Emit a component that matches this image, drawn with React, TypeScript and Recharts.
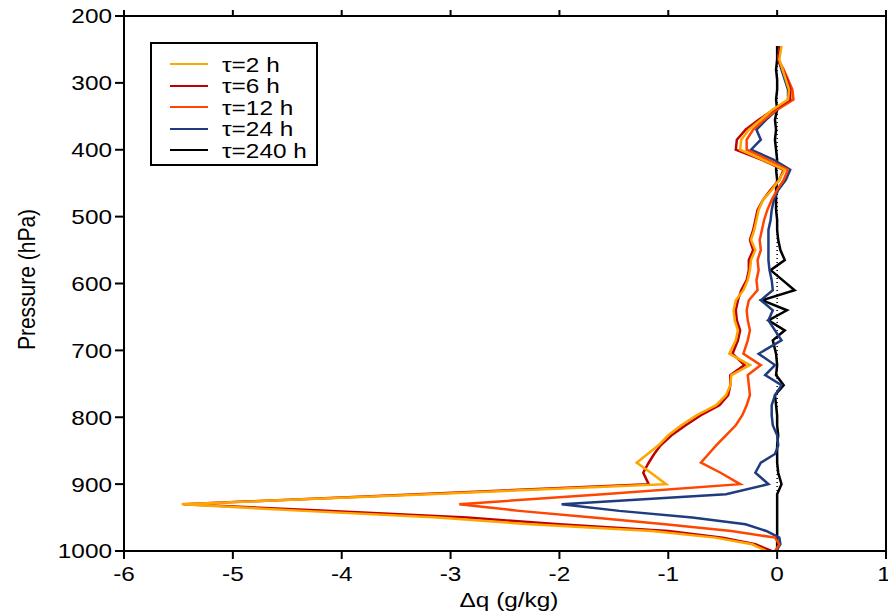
import { Legend, Line, LineChart, ReferenceLine, XAxis, YAxis } from "recharts";

// pressure levels (hPa), shared by every run
const pressureLevels = [
  245, 265, 280, 295, 310, 325, 340, 355, 370, 385, 400, 415, 430, 445, 460, 475, 490, 505, 520, 535,
  550, 565, 580, 595, 610, 625, 640, 655, 670, 685, 705, 722, 737, 752, 767, 782, 797, 812, 827, 842,
  855, 868, 883, 900, 915, 930, 940, 950, 960, 970, 980, 990, 1000,
];

// delta q (g/kg) for each relaxation time
const tau2 = [
  0.04, 0.02, 0.05, 0.08, 0.11, 0.1, -0.04, -0.15, -0.26, -0.33, -0.34, -0.13, 0.07, 0.02, -0.05, -0.13, -0.17, -0.19, -0.21, -0.24,
  -0.2, -0.24, -0.25, -0.27, -0.31, -0.38, -0.4, -0.39, -0.36, -0.38, -0.44, -0.25, -0.42, -0.43, -0.47, -0.56, -0.74, -0.88, -1.0, -1.09,
  -1.19, -1.29, -1.16, -1.02, -3.2, -5.47, -4.35, -3.12, -2.27, -1.15, -0.57, -0.23, -0.1,
];
const tau6 = [
  0.03, 0.01, 0.05, 0.09, 0.12, 0.12, -0.03, -0.17, -0.29, -0.37, -0.38, -0.14, 0.06, 0.02, -0.06, -0.13, -0.18, -0.2, -0.22, -0.25,
  -0.22, -0.26, -0.26, -0.28, -0.33, -0.36, -0.38, -0.37, -0.34, -0.36, -0.41, -0.3, -0.43, -0.43, -0.45, -0.53, -0.7, -0.84, -0.97, -1.07,
  -1.13, -1.18, -1.23, -1.18, -3.3, -5.45, -4.1, -2.85, -2.0, -1.0, -0.5, -0.2, -0.05,
];
const tau12 = [
  0.03, 0.01, 0.06, 0.1, 0.14, 0.15, 0.0, -0.12, -0.22, -0.28, -0.28, -0.08, 0.1, 0.06, 0.0, -0.05, -0.09, -0.12, -0.14, -0.16,
  -0.15, -0.18, -0.17, -0.19, -0.18, -0.26, -0.28, -0.27, -0.25, -0.27, -0.31, -0.15, -0.27, -0.26, -0.25, -0.28, -0.32, -0.38, -0.47, -0.56,
  -0.63, -0.7, -0.52, -0.34, -1.6, -2.92, -2.37, -1.69, -1.03, -0.42, -0.02, 0.02, -0.02,
];
const tau24 = [
  0.02, 0.01, 0.04, 0.07, 0.1, 0.1, 0.0, -0.1, -0.19, -0.15, -0.24, -0.03, 0.12, 0.08, 0.01, -0.03, -0.05, -0.06, -0.08, -0.08,
  -0.08, -0.08, -0.07, -0.05, -0.04, -0.15, -0.04, -0.08, -0.02, 0.04, -0.17, -0.02, -0.11, 0.04, -0.02, -0.05, -0.05, -0.04, 0.0, 0.01,
  -0.02, -0.15, -0.2, -0.08, -0.47, -1.98, -1.45, -0.78, -0.29, -0.1, 0.02, 0.03, -0.01,
];
const tau240 = [
  0.0, 0.0, -0.01, 0.0, 0.0, -0.01, 0.0, -0.02, -0.01, -0.02, -0.01, 0.0, -0.01, 0.0, -0.01, -0.01, -0.01, 0.0, 0.0, 0.01,
  0.03, 0.07, -0.06, 0.05, 0.16, -0.14, 0.09, -0.08, 0.07, -0.04, -0.01, 0.0, -0.01, 0.06, -0.02, -0.01, 0.0, 0.0, 0.01, 0.0,
  0.0, 0.0, 0.01, 0.04, 0.0, 0.0, 0.0, 0.0, 0.0, 0.0, 0.0, 0.0, 0.0,
];

const xTicks = [-6, -5, -4, -3, -2, -1, 0, 1];
const yTicks = [200, 300, 400, 500, 600, 700, 800, 900, 1000];

const series = [
  { key: "tau2", name: "τ=2 h", color: "#FFA500", values: tau2 },
  { key: "tau6", name: "τ=6 h", color: "#C00000", values: tau6 },
  { key: "tau12", name: "τ=12 h", color: "#FF4500", values: tau12 },
  { key: "tau24", name: "τ=24 h", color: "#1F3C7E", values: tau24 },
  { key: "tau240", name: "τ=240 h", color: "#000000", values: tau240 },
];

const chartData = pressureLevels.map((p, i) => {
  const row: Record<string, number> = { p };
  series.forEach((s) => {
    row[s.key] = s.values[i];
  });
  return row;
});

const FONT = "'Liberation Sans', Arial, Helvetica, sans-serif";
const STRETCH = 1.16; // the original figure is a bit wider than tall

function BottomTick({ x, y, payload }: any) {
  return (
    <text
      transform={`translate(${x},${y}) scale(${STRETCH},1)`}
      textAnchor="middle"
      dy="0.71em"
      fontSize={21}
      fontFamily={FONT}
      fill="#000"
    >
      {payload.value}
    </text>
  );
}

function LeftTick({ x, y, payload }: any) {
  return (
    <text
      transform={`translate(${x},${y}) scale(${STRETCH},1)`}
      textAnchor="end"
      dy="0.355em"
      fontSize={21}
      fontFamily={FONT}
      fill="#000"
    >
      {payload.value}
    </text>
  );
}

function XTitle({ viewBox }: any) {
  const cx = viewBox.x + viewBox.width / 2 + 4;
  return (
    <text
      transform={`translate(${cx},${viewBox.y + 56}) scale(${STRETCH},1)`}
      textAnchor="middle"
      fontSize={21}
      fontFamily={FONT}
      fill="#000"
    >
      Δq (g/kg)
    </text>
  );
}

function YTitle({ viewBox }: any) {
  const cy = viewBox.y + viewBox.height / 2 - 4;
  return (
    <text
      transform={`translate(26,${cy}) scale(${STRETCH},1) rotate(-90)`}
      textAnchor="middle"
      dy="0.355em"
      fontSize={21}
      fontFamily={FONT}
      fill="#000"
    >
      Pressure (hPa)
    </text>
  );
}

function LegendBox() {
  return (
    <div
      style={{
        boxSizing: "border-box",
        width: 168,
        height: 124,
        border: "2px solid #000",
        background: "#fff",
        paddingTop: 9.5,
      }}
    >
      {series.map((s) => (
        <div key={s.key} style={{ display: "flex", alignItems: "center", height: 21.5 }}>
          <span
            style={{
              display: "inline-block",
              marginLeft: 18,
              width: 38,
              height: 2,
              background: s.color,
            }}
          />
          <span
            style={{
              marginLeft: 14,
              fontFamily: FONT,
              fontSize: 21,
              lineHeight: 1,
              color: "#000",
              whiteSpace: "nowrap",
              transform: `scaleX(${STRETCH})`,
              transformOrigin: "left center",
            }}
          >
            {s.name}
          </span>
        </div>
      ))}
    </div>
  );
}

export default function App() {
  return (
    <div style={{ position: "absolute", left: 0, top: 0, background: "#fff" }}>
      <LineChart
        width={888}
        height={615}
        data={chartData}
        layout="vertical"
        margin={{ top: 0, right: 0, bottom: 0, left: 0 }}
      >
        <XAxis
          type="number"
          domain={[-6, 1]}
          ticks={xTicks}
          height={64}
          tickSize={8}
          tickMargin={7}
          tick={<BottomTick />}
          axisLine={{ stroke: "#000", strokeWidth: 2 }}
          tickLine={{ stroke: "#000", strokeWidth: 2 }}
          label={<XTitle />}
        />
        <XAxis
          xAxisId="top"
          orientation="top"
          type="number"
          domain={[-6, 1]}
          ticks={xTicks}
          interval={0}
          height={16}
          tickSize={6}
          tickFormatter={() => ""}
          axisLine={{ stroke: "#000", strokeWidth: 2 }}
          tickLine={{ stroke: "#000", strokeWidth: 2 }}
        />
        <YAxis
          type="number"
          dataKey="p"
          domain={[200, 1000]}
          ticks={yTicks}
          width={124}
          tickSize={9}
          tickMargin={3}
          tick={<LeftTick />}
          axisLine={{ stroke: "#000", strokeWidth: 2 }}
          tickLine={{ stroke: "#000", strokeWidth: 2 }}
          label={<YTitle />}
        />
        <YAxis
          yAxisId="right"
          orientation="right"
          type="number"
          domain={[200, 1000]}
          width={2}
          tick={false}
          tickLine={false}
          axisLine={{ stroke: "#000", strokeWidth: 2 }}
        />
        <ReferenceLine
          segment={[
            { x: 0, y: 245 },
            { x: 0, y: 1000 },
          ]}
          stroke="#000"
          strokeWidth={1.5}
          strokeDasharray="1 3"
        />
        {/* invisible copy so the top axis gets its tick marks */}
        <Line
          xAxisId="top"
          dataKey="tau240"
          stroke="transparent"
          dot={false}
          activeDot={false}
          legendType="none"
          isAnimationActive={false}
        />
        {[...series].reverse().map((s) => (
          <Line
            key={s.key}
            dataKey={s.key}
            name={s.name}
            stroke={s.color}
            strokeWidth={2.5}
            dot={false}
            isAnimationActive={false}
          />
        ))}
        <Legend
          content={() => <LegendBox />}
          layout="vertical"
          align="center"
          verticalAlign="middle"
          wrapperStyle={{ left: 150, top: 42, width: 168, height: 124 }}
        />
      </LineChart>
    </div>
  );
}
